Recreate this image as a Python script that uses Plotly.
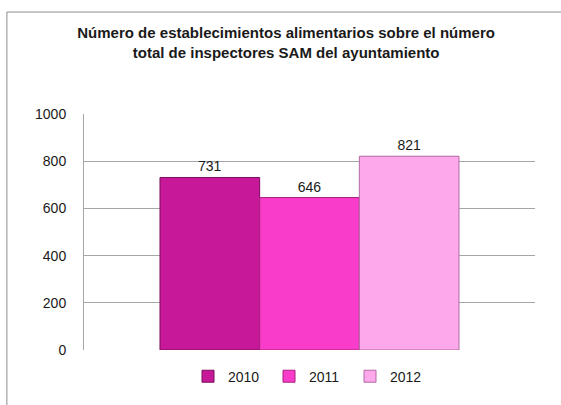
import plotly.graph_objects as go

# datos
years = ["2010", "2011", "2012"]
values = [731, 646, 821]
colors = ["#c8189a", "#f93cc9", "#fca8ea"]
edges = ["#7a0d5c", "#a8207f", "#b06aa3"]
y_ticks = [0, 200, 400, 600, 800, 1000]

title_text = ("<b>Número de establecimientos alimentarios sobre el número<br>"
              "total de inspectores SAM del ayuntamiento</b>")

fig = go.Figure()
for year, val, col, edge in zip(years, values, colors, edges):
    fig.add_trace(go.Bar(x=[""], y=[val], name=year, marker=dict(color=col, line=dict(color=edge, width=1)),
                         text=[val], textposition="outside", cliponaxis=False,
                         textfont=dict(size=14, color="#1a1a1a")))

# marco del gráfico (cortado a la derecha y abajo)
fig.add_shape(type="rect", xref="paper", yref="paper", x0=-0.171, x1=1.3, y0=-0.4, y1=1.432,
              line=dict(color="#8c8c8c", width=1), fillcolor="rgba(0,0,0,0)", layer="below")

fig.update_layout(
    width=561, height=405,
    margin=dict(l=84, r=26, t=114, b=48),
    paper_bgcolor="white", plot_bgcolor="white",
    font=dict(family="Liberation Sans", size=14, color="#1a1a1a"),
    title=dict(text=title_text, xref="container", x=0.51, xanchor="center",
               yref="container", y=0.905, yanchor="middle",
               font=dict(size=15, color="#1a1a1a")),
    barmode="group", bargap=0.337, bargroupgap=0,
    showlegend=True,
    legend=dict(orientation="h", x=0.5, xanchor="center", y=-0.045, yanchor="top",
                font=dict(size=14), itemwidth=30, entrywidth=36, entrywidthmode="pixels"),
)
fig.update_xaxes(showticklabels=False, showgrid=False, zeroline=False, showline=False, automargin=False)
fig.update_yaxes(range=[0, 1000], tickvals=y_ticks, showgrid=True, gridcolor="#a6a6a6", gridwidth=1,
                 showline=True, linecolor="#a6a6a6", linewidth=1, zeroline=False, automargin=False,
                 ticks="", ticklabelstandoff=14, tickfont=dict(size=14))

# quitar el margen por defecto del body para que la figura empiece en (0, 0)
fig.write_html("out.html", config={"displayModeBar": False},
               post_script="document.body.style.margin='0';")
